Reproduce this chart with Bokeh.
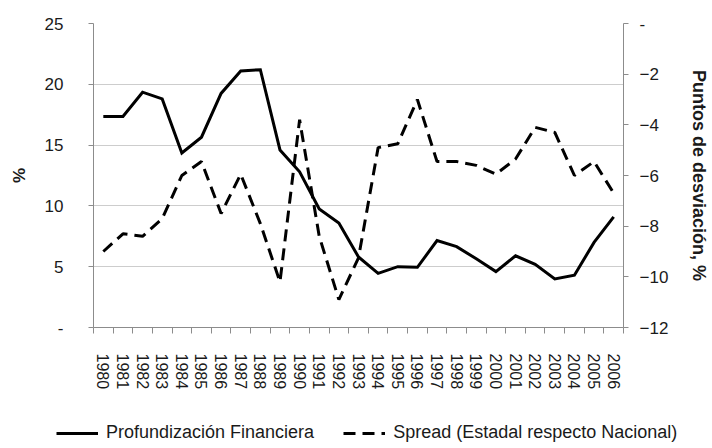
import math
from bokeh.plotting import figure
from bokeh.models import LinearAxis, Range1d, FixedTicker, Legend, LegendItem
from bokeh.embed import file_html
from bokeh.resources import INLINE

# ---- data ----
years = list(range(1980, 2007))
profundizacion = [17.35, 17.35, 19.35, 18.8, 14.35, 15.65, 19.25, 21.1, 21.2, 14.6,
                  12.8, 9.75, 8.6, 5.8, 4.45, 5.0, 4.95, 7.15, 6.65, 5.65,
                  4.6, 5.9, 5.2, 4.0, 4.3, 7.0, 9.1]
spread = [-9.0, -8.3, -8.4, -7.7, -6.0, -5.45, -7.5, -5.95, -7.9, -10.2,
          -3.8, -8.4, -10.9, -9.25, -4.9, -4.75, -3.0, -5.45, -5.45, -5.6,
          -5.95, -5.35, -4.1, -4.3, -6.0, -5.45, -6.7]
left_ticks = [0, 5, 10, 15, 20, 25]
right_ticks = [-12, -10, -8, -6, -4, -2, 0]
label_left = "%"
label_right = "Puntos de desviación, %"
name_solid = "Profundización Financiera"
name_dashed = "Spread (Estadal respecto Nacional)"

FONT = "Liberation Sans"
TXT = "#1a1a1a"
AXC = "#8c8c8c"
DASH = "12 7"

p = figure(width=712, height=420,
           min_border_left=93, min_border_right=87,
           min_border_top=23, min_border_bottom=93,
           x_range=Range1d(years[0] - 0.5, years[-1] + 0.5),
           y_range=Range1d(left_ticks[0], left_ticks[-1]),
           output_backend="svg", toolbar_location=None,
           background_fill_color="white", border_fill_color="white")
p.outline_line_color = None
p.extra_y_ranges = {"right": Range1d(right_ticks[0], right_ticks[-1])}

# x axis
xa = p.xaxis[0]
xa.ticker = FixedTicker(ticks=years, minor_ticks=[y - 0.5 for y in years] + [years[-1] + 0.5])
xa.major_label_overrides = {y: str(y) for y in years}
xa.major_label_orientation = "vertical"
xa.major_tick_line_color = None
xa.major_tick_out = 0
xa.major_tick_in = 0
xa.minor_tick_line_color = AXC
xa.minor_tick_out = 6
xa.minor_tick_in = 0
xa.major_label_standoff = 20
xa.axis_line_color = AXC
xa.major_label_text_font = FONT
xa.major_label_text_font_size = "16px"
xa.major_label_text_color = TXT

# left axis
ya = p.yaxis[0]
ya.ticker = FixedTicker(ticks=left_ticks)
ya.major_label_overrides = {0: "-"}
ya.major_tick_out = 5
ya.major_tick_in = 0
ya.minor_tick_line_color = None
ya.major_tick_line_color = AXC
ya.axis_line_color = AXC
ya.major_label_standoff = 25
ya.major_label_text_font = FONT
ya.major_label_text_font_size = "17px"
ya.major_label_text_color = TXT
ya.axis_label = label_left
ya.axis_label_text_font = FONT
ya.axis_label_text_font_style = "bold"
ya.axis_label_text_font_size = "17px"
ya.axis_label_text_color = TXT
ya.axis_label_standoff = 13

# right axis
ra = LinearAxis(y_range_name="right", ticker=FixedTicker(ticks=right_ticks))
ra.major_label_overrides = {0: "-"}
ra.major_tick_out = 5
ra.major_tick_in = 0
ra.minor_tick_line_color = None
ra.major_tick_line_color = AXC
ra.axis_line_color = AXC
ra.major_label_standoff = 11
ra.major_label_text_font = FONT
ra.major_label_text_font_size = "17px"
ra.major_label_text_color = TXT
ra.axis_label = label_right
ra.axis_label_text_font = FONT
ra.axis_label_text_font_style = "bold"
ra.axis_label_text_font_size = "18px"
ra.axis_label_text_color = TXT
ra.axis_label_standoff = 18
p.add_layout(ra, "right")

# grid
p.xgrid.grid_line_color = None
p.ygrid.ticker = FixedTicker(ticks=left_ticks)
p.ygrid.grid_line_color = "#9a9a9a"
p.ygrid.grid_line_dash = "1 1"
p.ygrid.grid_line_width = 1

# lines
p.line(years, profundizacion, line_color="black", line_width=3, line_join="miter")
p.line(years, spread, y_range_name="right", line_color="black", line_width=3,
       line_dash=DASH)

# ---- legend strip below the chart (separate root, no frame alignment) ----
lf = figure(width=712, height=28,
            min_border_left=0, min_border_right=0, min_border_top=0, min_border_bottom=0,
            x_range=Range1d(0, 1), y_range=Range1d(100, 101),
            x_axis_location=None, y_axis_location=None,
            output_backend="svg", toolbar_location=None,
            background_fill_color="white", border_fill_color="white")
lf.outline_line_color = None
lf.grid.visible = False
# same series; they fall outside this strip's ranges, only their legend samples show
l1 = lf.line(years, profundizacion, line_color="black", line_width=3)
l2 = lf.line(years, spread, line_color="black", line_width=3, line_dash=DASH)

legend = Legend(items=[LegendItem(label=name_solid, renderers=[l1]),
                       LegendItem(label=name_dashed, renderers=[l2])],
                location=(56, 5), orientation="horizontal",
                glyph_width=42, glyph_height=20, label_standoff=8,
                padding=0, margin=0, spacing=29,
                border_line_color=None, background_fill_alpha=0,
                label_text_font=FONT, label_text_font_size="18px",
                label_text_color=TXT)
lf.add_layout(legend)

open("out.html", "w").write(file_html([p, lf], INLINE))
